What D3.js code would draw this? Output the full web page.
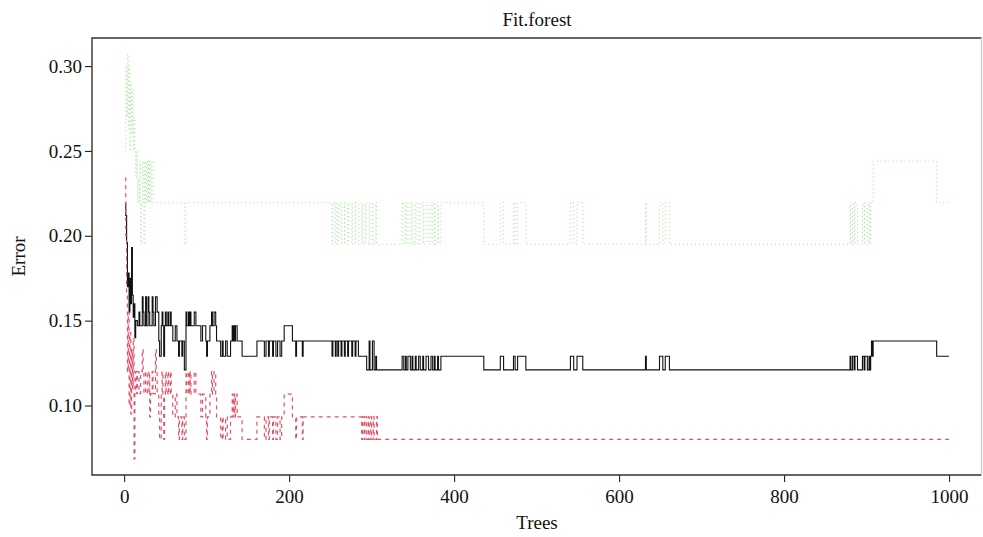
<!DOCTYPE html>
<html>
<head>
<meta charset="utf-8">
<script src="https://cdn.jsdelivr.net/npm/d3@7"></script>
<style>
  body { margin: 0; background: #fff; }
  svg text { font-family: "Liberation Serif", "DejaVu Serif", serif; fill: #111; }
</style>
</head>
<body>
<div id="chart"></div>
<script>
// x ticks and y ticks
var treeTicks = [0, 200, 400, 600, 800, 1000];
var errorTicks = [0.10, 0.15, 0.20, 0.25, 0.30];

// OOB error, change points [tree, error] (value holds until next point)
var oobErr = [
  [1,0.219],[2,0.212],[3,0.196],[4,0.17],[5,0.178],[6,0.155],[7,0.175],[8,0.16],[9,0.193],[10,0.165],[11,0.152],[12,0.16],[13,0.14],[14,0.15],[16,0.147],[18,0.155],[19,0.147],
  [22,0.164],[23,0.155],[24,0.147],[26,0.164],[27,0.147],[29,0.164],[30,0.155],[31,0.147],[34,0.164],[35,0.155],[36,0.147],[38,0.164],[40,0.155],
  [42,0.138],[43,0.129],[45,0.147],[46,0.155],[47,0.147],[48,0.129],[49,0.147],[50,0.155],[51,0.147],[53,0.155],[54,0.147],[56,0.155],[57,0.147],
  [59,0.138],[62,0.147],[64,0.138],[66,0.129],[67,0.138],[70,0.129],[71,0.138],[73,0.121],[75,0.155],[76,0.147],[78,0.155],[79,0.147],[80,0.155],[81,0.147],[85,0.155],[87,0.147],
  [93,0.138],[95,0.147],[99,0.138],[100,0.129],[101,0.138],[104,0.147],[106,0.155],[107,0.147],[109,0.155],[111,0.147],[112,0.138],[117,0.129],[119,0.138],[120,0.129],[123,0.138],[125,0.129],[129,0.138],[131,0.147],[132,0.138],[133,0.147],[134,0.138],[135,0.147],[137,0.138],[143,0.129],
  [161,0.138],[170,0.129],[172,0.138],[175,0.129],[176,0.138],[180,0.129],[181,0.138],[184,0.129],[186,0.138],[189,0.129],[191,0.138],[194,0.147],[204,0.138],[208,0.129],[209,0.138],[216,0.129],[217,0.138],
  [252,0.129],[253,0.138],[256,0.129],[257,0.138],[259,0.129],[260,0.138],[263,0.129],[264,0.138],[267,0.129],[268,0.138],[271,0.129],[272,0.138],[276,0.129],[277,0.138],[280,0.129],[281,0.138],[284,0.129],
  [294,0.121],[297,0.138],[298,0.121],[301,0.138],[303,0.121],[305,0.129],[306,0.121],
  [337,0.129],[339,0.121],[341,0.129],[342,0.121],[344,0.129],[347,0.121],[349,0.129],[350,0.121],[353,0.129],[354,0.121],[357,0.129],[359,0.121],[362,0.129],[363,0.121],[366,0.129],[369,0.121],[372,0.129],[374,0.121],[376,0.129],[377,0.121],[380,0.129],[381,0.121],[384,0.129],
  [436,0.121],[456,0.129],[460,0.121],[472,0.129],[474,0.121],[477,0.129],[487,0.121],
  [541,0.129],[545,0.121],[549,0.129],[556,0.121],
  [632,0.129],[633,0.121],[649,0.129],[653,0.121],[656,0.129],[661,0.121],
  [880,0.129],[881,0.121],[883,0.129],[885,0.121],[886,0.129],[889,0.121],[895,0.129],[897,0.121],[898,0.129],[901,0.121],[903,0.129],[904,0.121],[905,0.129],[906,0.138],[907,0.129],[908,0.138],[985,0.129],[1000,0.129]
];

// class 1 error (red dashed)
var class1Err = [
  [1,0.234],[2,0.20],[3,0.167],[4,0.12],[5,0.155],[6,0.10],[7,0.143],[8,0.095],[9,0.133],[10,0.11],[11,0.14],[12,0.0686],[13,0.107],[14,0.12],[15,0.107],[16,0.12],[18,0.107],[20,0.12],[22,0.133],[23,0.12],[24,0.107],[26,0.12],[28,0.107],[30,0.12],[31,0.0933],[32,0.107],[34,0.12],[35,0.107],[38,0.133],[39,0.12],[40,0.107],
  [42,0.0933],[43,0.08],[45,0.1067],[46,0.12],[47,0.1067],[48,0.08],[49,0.1067],[50,0.12],[51,0.1067],[53,0.12],[54,0.1067],[56,0.12],[57,0.1067],
  [59,0.0933],[62,0.1067],[64,0.0933],[66,0.08],[67,0.0933],[70,0.08],[71,0.0933],[73,0.08],[75,0.12],[76,0.1067],[78,0.12],[79,0.1067],[80,0.12],[81,0.1067],[85,0.12],[87,0.1067],
  [93,0.0933],[95,0.1067],[99,0.0933],[100,0.08],[101,0.0933],[104,0.1067],[106,0.12],[107,0.1067],[109,0.12],[111,0.1067],[112,0.0933],[117,0.08],[119,0.0933],[120,0.08],[123,0.0933],[125,0.08],[129,0.0933],[131,0.1067],[132,0.0933],[133,0.1067],[134,0.0933],[135,0.1067],[137,0.0933],[143,0.08],
  [161,0.0933],[170,0.08],[172,0.0933],[175,0.08],[176,0.0933],[180,0.08],[181,0.0933],[184,0.08],[186,0.0933],[189,0.08],[191,0.0933],[194,0.1067],[204,0.0933],[208,0.08],[209,0.0933],[216,0.08],[217,0.0933],
  [288,0.08],[289,0.0933],[291,0.08],[292,0.0933],[294,0.08],[296,0.0933],[297,0.08],[299,0.0933],[300,0.08],[302,0.0933],[303,0.08],[306,0.0933],[307,0.08],[1000,0.08]
];

// class 2 error (green dotted)
var class2Err = [
  [1,0.25],[2,0.30],[3,0.27],[4,0.307],[5,0.263],[6,0.30],[7,0.25],[8,0.29],[9,0.26],[10,0.286],[11,0.25],[12,0.27],[13,0.25],[14,0.234],[15,0.25],[16,0.2195],[17,0.234],[18,0.2195],[19,0.244],[20,0.195],[21,0.2195],[22,0.244],[23,0.2195],[24,0.195],[25,0.244],[26,0.2195],[27,0.244],[28,0.2195],[29,0.244],[30,0.2195],[31,0.244],[32,0.2195],[33,0.244],[35,0.2195],
  [73,0.195],[75,0.2195],
  [252,0.195],[253,0.2195],[256,0.195],[257,0.2195],[259,0.195],[260,0.2195],[263,0.195],[264,0.2195],[267,0.195],[268,0.2195],[271,0.195],[272,0.2195],[276,0.195],[277,0.2195],[280,0.195],[281,0.2195],[284,0.195],[288,0.2195],[289,0.195],[292,0.2195],[293,0.195],[297,0.2195],[298,0.195],[301,0.2195],[303,0.195],[305,0.2195],[306,0.195],
  [337,0.2195],[339,0.195],[341,0.2195],[342,0.195],[344,0.2195],[347,0.195],[349,0.2195],[350,0.195],[353,0.2195],[354,0.195],[357,0.2195],[359,0.195],[362,0.2195],[363,0.195],[366,0.2195],[369,0.195],[372,0.2195],[374,0.195],[376,0.2195],[377,0.195],[380,0.2195],[381,0.195],[384,0.2195],
  [436,0.195],[456,0.2195],[460,0.195],[472,0.2195],[474,0.195],[477,0.2195],[487,0.195],
  [541,0.2195],[545,0.195],[549,0.2195],[556,0.195],
  [632,0.2195],[633,0.195],[649,0.2195],[653,0.195],[656,0.2195],[661,0.195],
  [880,0.2195],[881,0.195],[883,0.2195],[885,0.195],[886,0.2195],[889,0.195],[895,0.2195],[897,0.195],[898,0.2195],[901,0.195],[903,0.2195],[904,0.195],[905,0.2195],[908,0.244],[985,0.2195],[1000,0.2195]
];

var width = 983, height = 537;
var margin = {top: 38, right: 1, bottom: 62, left: 92};

var svg = d3.select("#chart").append("svg")
    .attr("width", width)
    .attr("height", height);

// R style 4% padding on both axes
var xPad = (1000 - 1) * 0.04;
var x = d3.scaleLinear()
    .domain([1 - xPad, 1000 + xPad])
    .range([margin.left, width - margin.right]);

var allVals = oobErr.concat(class1Err, class2Err).map(function(d) { return d[1]; });
var yMin = d3.min(allVals), yMax = d3.max(allVals);
var yPad = (yMax - yMin) * 0.04;
var y = d3.scaleLinear()
    .domain([yMin - yPad, yMax + yPad])
    .range([height - margin.bottom, margin.top]);

svg.append("clipPath").attr("id", "plotclip")
  .append("rect")
    .attr("x", margin.left).attr("y", margin.top)
    .attr("width", width - margin.left - margin.right)
    .attr("height", height - margin.top - margin.bottom);

var line = d3.line()
    .x(function(d) { return x(d[0]); })
    .y(function(d) { return y(d[1]); })
    .curve(d3.curveStepAfter);

var plot = svg.append("g").attr("clip-path", "url(#plotclip)");

// same order as matplot: OOB, class 1, class 2
plot.append("path")
    .datum(oobErr)
    .attr("d", line)
    .attr("fill", "none")
    .attr("stroke", "#111")
    .attr("stroke-width", 1.1);

plot.append("path")
    .datum(class1Err)
    .attr("d", line)
    .attr("fill", "none")
    .attr("stroke", "#DF536B")
    .attr("stroke-width", 1.2)
    .attr("stroke-dasharray", "4,4");

plot.append("path")
    .datum(class2Err)
    .attr("d", line)
    .attr("fill", "none")
    .attr("stroke", "#61D04F")
    .attr("stroke-opacity", 0.6)
    .attr("stroke-width", 1)
    .attr("stroke-dasharray", "1,3");

// axes
var xAxis = svg.append("g")
    .attr("transform", "translate(0," + (height - margin.bottom) + ")")
    .call(d3.axisBottom(x).tickValues(treeTicks).tickFormat(d3.format("d")).tickSize(7).tickSizeOuter(0).tickPadding(8));

var yAxis = svg.append("g")
    .attr("transform", "translate(" + margin.left + ",0)")
    .call(d3.axisLeft(y).tickValues(errorTicks).tickFormat(d3.format(".2f")).tickSize(7).tickSizeOuter(0).tickPadding(3));

[xAxis, yAxis].forEach(function(a) {
    a.select(".domain").remove();
    a.selectAll(".tick line").attr("stroke", "#222").attr("stroke-width", 1.1);
    a.selectAll(".tick text").style("font-size", "19px").attr("fill", "#111");
});

// box: right edge is lighter in the source image
var x0 = margin.left, x1 = width - margin.right - 0.5,
    y0 = margin.top, y1 = height - margin.bottom;
svg.append("path")
    .attr("d", "M" + x1 + "," + y0 + "H" + x0 + "V" + y1 + "H" + x1)
    .attr("fill", "none")
    .attr("stroke", "#333")
    .attr("stroke-width", 1.4);
svg.append("path")
    .attr("d", "M" + x1 + "," + y0 + "V" + y1)
    .attr("fill", "none")
    .attr("stroke", "#c8c8c8")
    .attr("stroke-width", 1.2);

// labels
svg.append("text")
    .attr("x", (margin.left + width - margin.right) / 2)
    .attr("y", 26)
    .attr("text-anchor", "middle")
    .style("font-size", "19px")
    .text("Fit.forest");

svg.append("text")
    .attr("x", (margin.left + width - margin.right) / 2)
    .attr("y", 529)
    .attr("text-anchor", "middle")
    .style("font-size", "19px")
    .text("Trees");

svg.append("text")
    .attr("transform", "translate(25," + ((margin.top + height - margin.bottom) / 2) + ") rotate(-90)")
    .attr("text-anchor", "middle")
    .style("font-size", "19px")
    .text("Error");
</script>
</body>
</html>
